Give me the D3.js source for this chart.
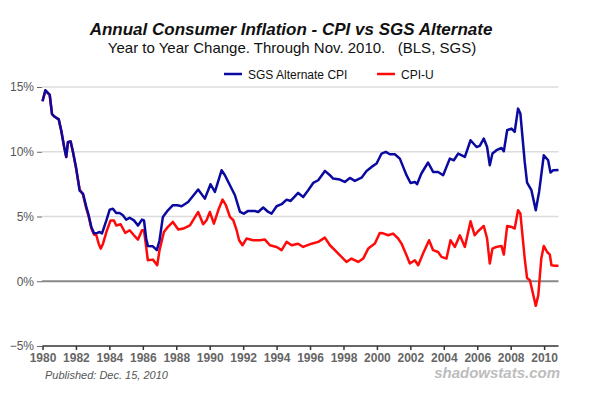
<!DOCTYPE html>
<html>
<head>
<meta charset="utf-8">
<script src="https://cdn.jsdelivr.net/npm/d3@7"></script>
<style>
  html, body { margin: 0; padding: 0; background: #fff; }
  svg { display: block; font-family: "Liberation Sans", Arial, sans-serif; }
</style>
</head>
<body>
<div id="chart"></div>
<script>
// --- Data (decimal years, % year-on-year) ---
const sgsYears = [1980.0, 1980.17, 1980.43, 1980.57, 1980.73, 1980.97, 1981.12, 1981.29, 1981.42, 1981.52,
  1981.68, 1981.82, 1982.02, 1982.22, 1982.42, 1982.62, 1982.76, 1982.92, 1983.08, 1983.28,
  1983.42, 1983.56, 1983.82, 1984.02, 1984.21, 1984.41, 1984.61, 1984.81, 1985.0, 1985.21,
  1985.47, 1985.71, 1985.95, 1986.07, 1986.2, 1986.3, 1986.6, 1986.84, 1987.0, 1987.2,
  1987.5, 1987.8, 1988.06, 1988.32, 1988.71, 1989.31, 1989.71, 1990.05, 1990.31, 1990.71,
  1990.91, 1991.21, 1991.51, 1991.81, 1992.04, 1992.3, 1992.7, 1992.9, 1993.2, 1993.5,
  1993.7, 1994.0, 1994.3, 1994.6, 1994.84, 1995.29, 1995.59, 1995.89, 1996.19, 1996.49,
  1996.89, 1997.19, 1997.38, 1997.78, 1998.08, 1998.38, 1998.68, 1999.08, 1999.38, 1999.68,
  1999.98, 2000.28, 2000.53, 2000.77, 2001.07, 2001.37, 2001.57, 2001.77, 2002.01, 2002.27,
  2002.4, 2002.66, 2003.06, 2003.36, 2003.66, 2003.96, 2004.36, 2004.6, 2004.86, 2005.26,
  2005.6, 2005.96, 2006.15, 2006.39, 2006.59, 2006.75, 2006.91, 2007.15, 2007.45, 2007.59,
  2007.79, 2008.05, 2008.24, 2008.44, 2008.58, 2008.84, 2008.98, 2009.24, 2009.5, 2009.7,
  2009.98, 2010.24, 2010.38, 2010.54, 2010.86];
const sgsValues = [13.9, 14.75, 14.4, 12.9, 12.7, 12.5, 11.66, 10.4, 9.6, 10.76,
  10.8, 10.0, 8.7, 7.0, 6.77, 5.74, 5.1, 4.2, 3.7, 3.73,
  3.8, 3.7, 4.7, 5.53, 5.6, 5.27, 5.27, 5.1, 4.76, 4.9,
  4.7, 4.3, 4.76, 4.7, 3.3, 2.73, 2.7, 2.4, 3.17, 4.97,
  5.48, 5.87, 5.87, 5.79, 6.12, 7.08, 6.38, 7.49, 6.9, 8.57,
  8.19, 7.41, 6.64, 5.35, 5.22, 5.43, 5.43, 5.35, 5.69, 5.35,
  5.22, 5.79, 5.95, 6.3, 6.2, 6.82, 6.5, 7.03, 7.59, 7.8,
  8.52, 8.19, 7.93, 7.85, 7.67, 7.98, 7.75, 8.0, 8.52, 8.83,
  9.09, 9.86, 9.99, 9.81, 9.81, 9.47, 8.83, 8.19, 7.59, 7.67,
  7.49, 8.32, 9.17, 8.44, 8.44, 8.19, 9.47, 9.34, 9.86, 9.6,
  10.89, 10.37, 10.45, 11.02, 10.37, 8.96, 9.86, 10.12, 10.29, 10.04,
  11.66, 11.79, 11.53, 13.33, 12.95, 9.21, 7.62, 7.03, 5.48, 6.9,
  9.73, 9.34, 8.39, 8.57, 8.6];

const cpiYears = [1980.0, 1980.17, 1980.43, 1980.57, 1980.73, 1980.97, 1981.12, 1981.29, 1981.42, 1981.52,
  1981.68, 1981.82, 1982.02, 1982.22, 1982.42, 1982.62, 1982.76, 1982.92, 1983.08, 1983.22,
  1983.36, 1983.48, 1983.62, 1983.82, 1984.07, 1984.27, 1984.41, 1984.67, 1984.95, 1985.21,
  1985.47, 1985.71, 1985.95, 1986.07, 1986.2, 1986.3, 1986.6, 1986.86, 1987.0, 1987.26,
  1987.5, 1987.8, 1988.12, 1988.42, 1988.82, 1989.31, 1989.61, 1989.81, 1990.01, 1990.25,
  1990.51, 1990.77, 1990.97, 1991.21, 1991.41, 1991.61, 1991.76, 1991.96, 1992.2, 1992.6,
  1992.99, 1993.3, 1993.6, 1994.0, 1994.3, 1994.6, 1994.9, 1995.29, 1995.59, 1996.09,
  1996.49, 1996.89, 1997.19, 1997.59, 1998.18, 1998.48, 1998.88, 1999.18, 1999.48, 1999.88,
  2000.17, 2000.37, 2000.67, 2000.97, 2001.27, 2001.47, 2001.77, 2001.97, 2002.27, 2002.47,
  2002.76, 2003.12, 2003.36, 2003.66, 2003.86, 2004.16, 2004.4, 2004.66, 2004.96, 2005.26,
  2005.6, 2005.85, 2006.05, 2006.39, 2006.59, 2006.75, 2006.91, 2007.15, 2007.45, 2007.59,
  2007.79, 2008.05, 2008.24, 2008.44, 2008.58, 2008.84, 2008.98, 2009.15, 2009.38, 2009.5,
  2009.65, 2009.83, 2009.98, 2010.18, 2010.34, 2010.44, 2010.64, 2010.86];
const cpiValues = [13.9, 14.7, 14.4, 12.9, 12.7, 12.5, 11.6, 10.4, 9.6, 10.7,
  10.8, 10.0, 8.6, 7.1, 6.7, 5.6, 5.0, 4.1, 3.6, 3.55,
  2.9, 2.52, 2.9, 3.8, 4.7, 4.7, 4.3, 4.4, 3.73, 3.94,
  3.55, 3.22, 3.94, 3.94, 2.65, 1.62, 1.67, 1.24, 2.4, 3.8,
  4.2, 4.58, 3.99, 4.07, 4.32, 5.35, 4.4, 4.71, 5.35, 4.45,
  5.48, 6.31, 5.87, 4.97, 4.71, 3.94, 3.17, 2.78, 3.3, 3.17,
  3.17, 3.22, 2.78, 2.65, 2.4, 3.04, 2.78, 2.9, 2.65, 2.9,
  3.04, 3.37, 2.78, 2.26, 1.49, 1.75, 1.49, 1.75, 2.52, 2.91,
  3.73, 3.7, 3.55, 3.68, 3.3, 2.91, 2.0, 1.37, 1.62, 1.24,
  2.14, 3.17, 2.4, 2.26, 1.88, 1.75, 3.17, 2.65, 3.55, 2.65,
  4.63, 3.55, 3.86, 4.27, 3.3, 1.37, 2.52, 2.65, 2.73, 2.06,
  4.27, 4.19, 4.07, 5.48, 5.23, 1.75, 0.25, 0.08, -1.21, -1.9,
  -1.08, 1.75, 2.73, 2.26, 2.06, 1.24, 1.2, 1.2];

const yTicks = [-5, 0, 5, 10, 15];
const xTicks = [1980, 1982, 1984, 1986, 1988, 1990, 1992, 1994, 1996, 1998, 2000, 2002, 2004, 2006, 2008, 2010];

const W = 597, H = 396;
const blue = "#0a0aa0", red = "#ff0a0a";

const svg = d3.select("#chart").append("svg")
    .attr("width", W)
    .attr("height", H);

const x = d3.scaleLinear().domain([1980, 2010.86]).range([42.5, 558.5]);
const y = d3.scaleLinear().domain([-5, 15]).range([346, 87]);

// titles
svg.append("text")
    .attr("x", 291).attr("y", 35)
    .attr("text-anchor", "middle")
    .style("font-size", "17px").style("font-weight", "bold").style("font-style", "italic")
    .attr("fill", "#111")
    .text("Annual Consumer Inflation - CPI vs SGS Alternate");

svg.append("text")
    .attr("x", 292).attr("y", 53)
    .attr("text-anchor", "middle")
    .style("font-size", "15px")
    .attr("fill", "#111")
    .attr("xml:space", "preserve")
    .text("Year to Year Change. Through Nov. 2010.   (BLS, SGS)");

// legend
const legend = [
  { label: "SGS Alternate CPI", color: blue, x: 224 },
  { label: "CPI-U", color: red, x: 377 }
];
const lg = svg.append("g").selectAll("g").data(legend).join("g")
    .attr("transform", d => `translate(${d.x},74)`);
lg.append("line")
    .attr("x1", 0).attr("x2", 18)
    .attr("stroke", d => d.color).attr("stroke-width", 2.5);
lg.append("text")
    .attr("x", 24).attr("y", 4.5)
    .style("font-size", "12px")
    .attr("fill", "#111")
    .text(d => d.label);

// grid + y labels
const yAxis = svg.append("g")
    .attr("transform", "translate(42,0)")
    .call(d3.axisLeft(y).tickValues(yTicks).tickSize(5).tickPadding(3)
      .tickFormat(d => (d < 0 ? "\u2212" + Math.abs(d) : d) + "%"));
yAxis.select(".domain").remove();
yAxis.selectAll(".tick line").attr("stroke", "#666");
yAxis.selectAll(".tick text")
    .style("font-size", "12px").style("font-family", "Liberation Sans, Arial, sans-serif")
    .attr("fill", "#555");

svg.append("g").selectAll("line")
    .data(yTicks.filter(d => d > 0))
    .join("line")
    .attr("x1", 42).attr("x2", 558.5)
    .attr("y1", d => y(d)).attr("y2", d => y(d))
    .attr("stroke", "#dcdcdc").attr("stroke-width", 1.5);

// zero line
svg.append("line")
    .attr("x1", 42).attr("x2", 558.5)
    .attr("y1", y(0)).attr("y2", y(0))
    .attr("stroke", "#888").attr("stroke-width", 2);

// bottom axis
const xAxis = svg.append("g")
    .attr("transform", `translate(0,${y(-5)})`)
    .call(d3.axisBottom(x).tickValues(xTicks).tickSize(4).tickPadding(3).tickFormat(d3.format("d")));
xAxis.select(".domain").attr("stroke", "#333").attr("stroke-width", 1.5)
    .attr("d", `M${x.range()[0]},0H${x.range()[1]}`);
xAxis.selectAll(".tick line").attr("stroke", "#333").attr("stroke-width", 1.5);
xAxis.selectAll(".tick text")
    .style("font-size", "12px").style("font-weight", "bold")
    .style("font-family", "Liberation Sans, Arial, sans-serif")
    .attr("fill", "#666");

// series
const line = d3.line().x(d => x(d[0])).y(d => y(d[1])).curve(d3.curveLinear);
const cpiData = d3.zip(cpiYears, cpiValues);
const sgsData = d3.zip(sgsYears, sgsValues);

svg.append("path").datum(cpiData)
    .attr("d", line).attr("fill", "none")
    .attr("stroke", red).attr("stroke-width", 2.5).attr("stroke-linejoin", "round");
svg.append("path").datum(sgsData)
    .attr("d", line).attr("fill", "none")
    .attr("stroke", blue).attr("stroke-width", 2.5).attr("stroke-linejoin", "round");

// footer
svg.append("text")
    .attr("x", 45).attr("y", 379)
    .style("font-size", "11px").style("font-style", "italic")
    .attr("fill", "#555")
    .text("Published: Dec. 15, 2010");

svg.append("text")
    .attr("x", 560).attr("y", 378)
    .attr("text-anchor", "end")
    .style("font-size", "15px").style("font-style", "italic").style("font-weight", "bold")
    .attr("fill", "#bdbdbd")
    .text("shadowstats.com");
</script>
</body>
</html>
